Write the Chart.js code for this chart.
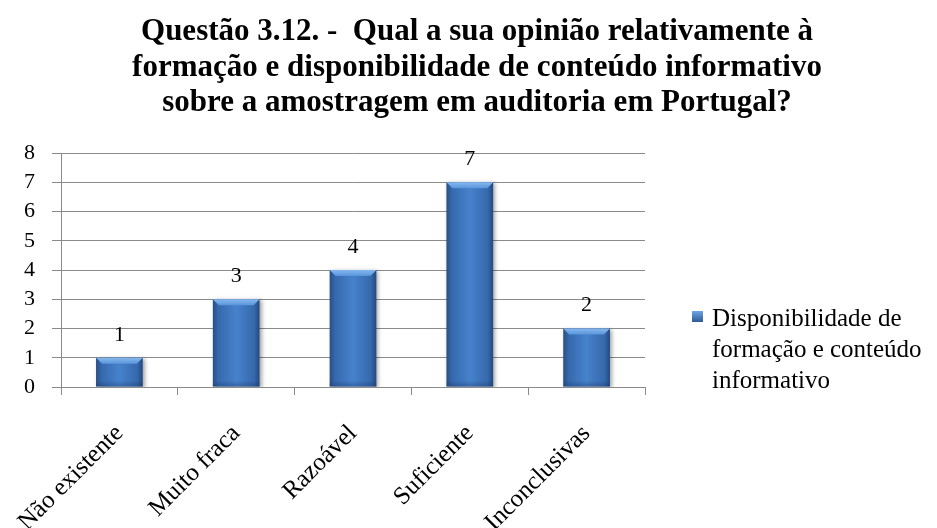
<!DOCTYPE html>
<html>
<head>
<meta charset="utf-8">
<script src="https://cdn.jsdelivr.net/npm/chart.js@4.4.0/dist/chart.umd.min.js"></script>
<style>
  html, body { margin: 0; padding: 0; background: #fff; }
  #wrap { width: 937px; height: 528px; position: relative; }
</style>
</head>
<body>
<div id="wrap"><canvas id="chart"></canvas></div>
<script>
const titleLines = [
  'Questão 3.12. -  Qual a sua opinião relativamente à',
  'formação e disponibilidade de conteúdo informativo',
  'sobre a amostragem em auditoria em Portugal?'
];
const categories = ['Não existente', 'Muito fraca', 'Razoável', 'Suficiente', 'Inconclusivas'];
const respostas = [1, 3, 4, 7, 2];
const legendLines = ['Disponibilidade de', 'formação e conteúdo', 'informativo'];
const yTicks = [0, 1, 2, 3, 4, 5, 6, 7, 8];

const serif = "'Liberation Serif', 'Times New Roman', serif";
const gridGray = '#8a8a8a';

// gradiente horizontal tipo cilindro para cada barra
function barGradient(ctx, left, right) {
  const g = ctx.createLinearGradient(left, 0, right, 0);
  g.addColorStop(0, '#284f86');
  g.addColorStop(0.12, '#3669ad');
  g.addColorStop(0.5, '#4682cc');
  g.addColorStop(0.88, '#3669ad');
  g.addColorStop(1, '#234a80');
  return g;
}

const barLook = {
  id: 'barLook',
  beforeDatasetsDraw(chart) {
    const ctx = chart.ctx;
    ctx.save();
    ctx.shadowColor = 'rgba(0,0,0,0.35)';
    ctx.shadowBlur = 4;
    ctx.shadowOffsetX = 2;
    ctx.shadowOffsetY = 1;
  },
  afterDatasetsDraw(chart) {
    const ctx = chart.ctx;
    ctx.restore();
    const meta = chart.getDatasetMeta(0);
    meta.data.forEach((el, i) => {
      const left = el.x - el.width / 2;
      const right = el.x + el.width / 2;
      const top = el.y;
      const b = 6;
      // chanfro superior
      const g = ctx.createLinearGradient(0, top, 0, top + b);
      g.addColorStop(0, '#86b8ef');
      g.addColorStop(1, '#5a95da');
      ctx.fillStyle = g;
      ctx.beginPath();
      ctx.moveTo(left, top);
      ctx.lineTo(right, top);
      ctx.lineTo(right - b, top + b);
      ctx.lineTo(left + b, top + b);
      ctx.closePath();
      ctx.fill();
      // borda inferior levemente mais escura
      const gb = ctx.createLinearGradient(0, el.base - b, 0, el.base);
      gb.addColorStop(0, 'rgba(20,50,95,0)');
      gb.addColorStop(1, 'rgba(20,50,95,0.35)');
      ctx.fillStyle = gb;
      ctx.fillRect(left, el.base - b, el.width, b);
      // rótulo do valor
      ctx.fillStyle = '#000';
      ctx.font = '22px ' + serif;
      ctx.textAlign = 'center';
      ctx.textBaseline = 'middle';
      ctx.fillText(String(respostas[i]), el.x, top - 23);
    });
  }
};

const titleAndLegend = {
  id: 'titleAndLegend',
  afterDraw(chart) {
    const ctx = chart.ctx;
    ctx.save();
    // título
    ctx.fillStyle = '#000';
    ctx.font = 'bold 31px ' + serif;
    ctx.textAlign = 'center';
    ctx.textBaseline = 'alphabetic';
    titleLines.forEach((t, i) => {
      ctx.fillText(t, 477, 40 + i * 35.5);
    });
    // legenda
    const x0 = 692, y0 = 311;
    const g = ctx.createLinearGradient(0, y0, 0, y0 + 11);
    g.addColorStop(0, '#6fa6e6');
    g.addColorStop(1, '#2d5a93');
    ctx.fillStyle = g;
    ctx.fillRect(x0, y0, 11, 11);
    ctx.fillStyle = '#000';
    ctx.font = '25px ' + serif;
    ctx.textAlign = 'left';
    legendLines.forEach((t, i) => {
      ctx.fillText(t, x0 + 20, y0 + 15 + i * 31);
    });
    ctx.restore();
  }
};

const ctx = document.getElementById('chart').getContext('2d');
new Chart(ctx, {
  type: 'bar',
  data: {
    labels: categories,
    datasets: [{
      label: legendLines.join(' '),
      data: respostas,
      backgroundColor: (c) => {
        const xs = c.chart.scales.x;
        if (!xs || !(xs.width > 0)) return '#3f7cc4';
        const cw = xs.width / categories.length;
        const w = cw * 0.4;
        const cx = xs.getPixelForValue(c.dataIndex);
        if (!isFinite(cx) || !isFinite(w)) return '#3f7cc4';
        return barGradient(c.chart.ctx, cx - w / 2, cx + w / 2);
      },
      borderWidth: 0,
      barPercentage: 0.8,
      categoryPercentage: 0.5
    }]
  },
  options: {
    responsive: true,
    maintainAspectRatio: false,
    animation: false,
    layout: {
      padding: { left: 0, right: 292, top: 153, bottom: 0 }
    },
    plugins: {
      legend: { display: false },
      tooltip: { enabled: false },
      title: { display: false }
    },
    scales: {
      x: {
        grid: {
          drawOnChartArea: false,
          color: gridGray,
          tickLength: 8,
          offset: true
        },
        border: { color: gridGray, width: 1 },
        ticks: {
          color: '#000',
          font: { family: serif, size: 25 },
          maxRotation: 45,
          minRotation: 45,
          autoSkip: false,
          padding: 24
        },
        afterFit: (s) => {
          s.height = 141;
          s.paddingLeft = 0;
          s.paddingRight = 0;
        }
      },
      y: {
        min: 0,
        max: 8,
        afterBuildTicks: (s) => { s.ticks = yTicks.map(v => ({ value: v })); },
        grid: {
          color: gridGray,
          tickLength: 9
        },
        border: { color: gridGray, width: 1 },
        ticks: {
          color: '#000',
          font: { family: serif, size: 22 },
          autoSkip: false,
          padding: 17
        },
        afterFit: (s) => { s.width = 61; }
      }
    }
  },
  plugins: [barLook, titleAndLegend]
});
</script>
</body>
</html>
